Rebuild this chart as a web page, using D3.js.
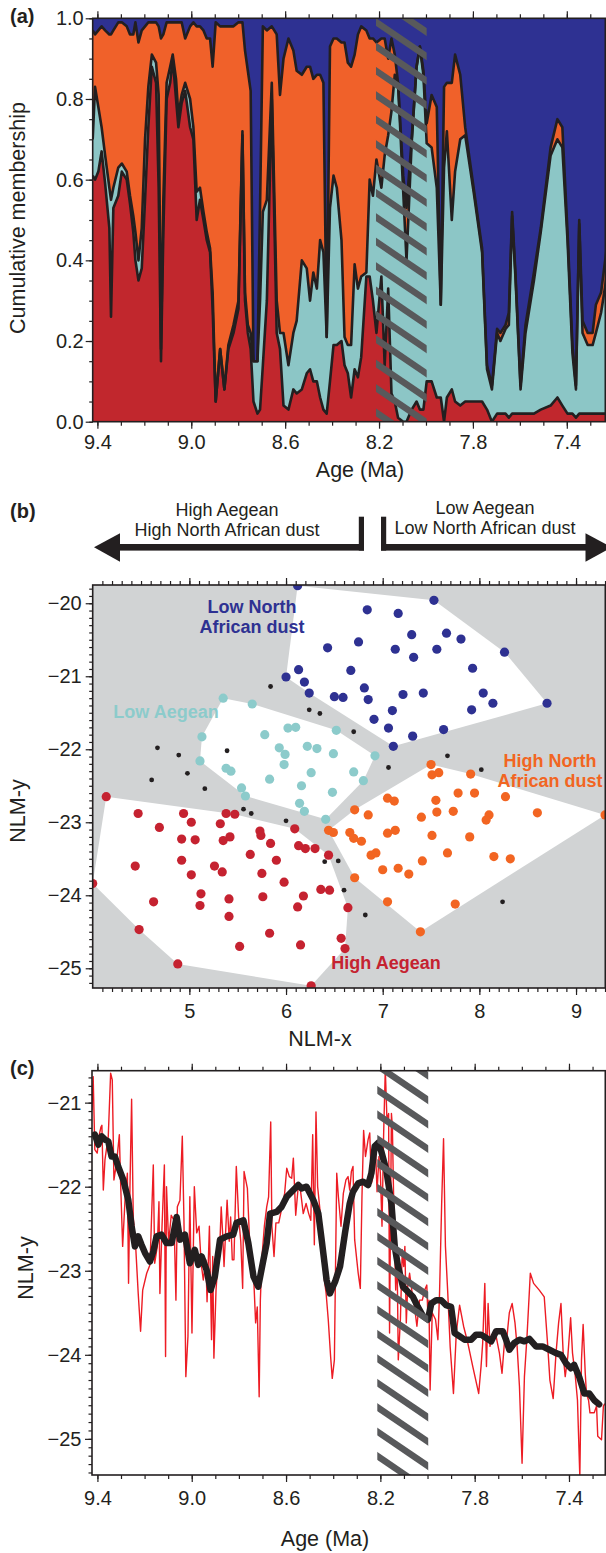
<!DOCTYPE html>
<html>
<head>
<meta charset="utf-8">
<script src="https://cdn.jsdelivr.net/npm/d3@7"></script>
<style>
  body { margin: 0; background: #fff; }
  svg text { font-family: "Liberation Sans", Arial, Helvetica, sans-serif; fill: #231f20; }
</style>
</head>
<body>
<svg id="fig" width="606" height="1553"></svg>
<script>
// ---------- (a) cumulative membership ----------
const membershipAge = [
  9.420,9.410,9.396,9.382,9.367,9.349,9.342,9.332,9.311,9.296,
  9.275,9.261,9.247,9.238,9.225,9.211,9.197,9.183,9.168,9.150,
  9.139,9.129,9.119,9.105,9.090,9.079,9.065,9.055,9.041,9.026,
  9.005,8.991,8.977,8.963,8.948,8.934,8.920,8.909,8.896,8.877,
  8.859,8.842,8.820,8.799,8.782,8.771,8.759,8.747,8.735,8.718,
  8.707,8.695,8.678,8.657,8.636,8.622,8.607,8.586,8.565,8.551,
  8.529,8.508,8.494,8.480,8.465,8.451,8.437,8.423,8.409,8.394,
  8.380,8.360,8.347,8.333,8.319,8.304,8.290,8.276,8.254,8.240,
  8.226,8.211,8.190,8.176,8.161,8.147,8.133,8.119,8.097,8.083,
  8.061,8.040,8.026,8.011,7.997,7.976,7.954,7.937,7.923,7.911,
  7.890,7.876,7.854,7.833,7.797,7.761,7.740,7.719,7.697,7.683,
  7.661,7.647,7.633,7.619,7.597,7.576,7.540,7.511,7.469,7.440,
  7.419,7.397,7.376,7.361,7.347,7.333,7.311,7.290,7.276,7.254,7.230
];
// top of High Aegean (red)
const cumHighAegean = [
  .61,.60,.62,.67,.59,.48,.26,.53,.56,.62,
  .60,.54,.47,.40,.35,.38,.55,.73,.88,.84,
  .58,.15,.47,.80,.84,.90,.80,.73,.79,.82,
  .73,.70,.50,.55,.50,.45,.42,.28,.05,.18,
  .08,.18,.22,.28,.71,.30,.22,.18,.05,.02,
  .03,.14,.30,.80,.22,.18,.04,.03,.08,.07,
  .08,.12,.13,.10,.10,.06,.03,.02,.10,.19,
  .19,.20,.14,.12,.06,.13,.11,.16,.36,.36,
  .30,.22,.36,.14,.33,.07,.05,.01,.00,.00,
  .03,.05,.03,.03,.10,.10,.06,.06,.00,.06,
  .08,.05,.04,.05,.05,.05,.03,.00,.02,.02,
  .02,.01,.02,.02,.02,.02,.02,.03,.04,.06,
  .04,.02,.02,.01,.02,.02,.02,.02,.02,.02,.02
];
// top of Low Aegean (cyan)
const cumLowAegean = [
  .70,.83,.78,.73,.66,.58,.55,.58,.63,.64,
  .62,.56,.51,.47,.40,.48,.70,.83,.91,.89,
  .81,.18,.55,.84,.88,.91,.85,.76,.81,.84,
  .80,.73,.57,.58,.52,.47,.43,.32,.05,.18,
  .08,.19,.24,.30,.72,.32,.24,.22,.15,.15,
  .30,.52,.55,.84,.30,.22,.22,.14,.22,.25,
  .40,.38,.30,.37,.33,.45,.42,.21,.53,.61,
  .58,.45,.21,.19,.19,.39,.33,.36,.37,.60,
  .56,.65,.58,.66,.71,.77,.86,.84,.57,.40,
  .69,.88,.93,.86,.69,.68,.58,.29,.63,.72,
  .50,.62,.70,.71,.57,.42,.13,.08,.22,.20,
  .23,.24,.51,.36,.08,.22,.35,.47,.66,.70,
  .68,.45,.17,.08,.49,.22,.19,.19,.22,.27,.36
];
// top of High North African dust (orange); Low North African dust fills to 1
const cumHighDust = [
  .97,.96,.97,.98,.97,.96,.96,.97,.99,.99,
  .98,.96,.96,.99,.94,.97,.98,.99,.99,.99,
  .98,.95,.96,.99,.99,.99,.99,.99,.99,.95,
  .98,.99,.98,.98,.97,.95,.95,.88,.99,.98,
  .98,.98,.98,.99,.99,.92,.87,.82,.15,.15,
  .53,.98,.97,.98,.96,.81,.90,.95,.92,.87,
  .86,.88,.88,.85,.86,.86,.84,.21,.93,.95,
  .95,.94,.94,.89,.88,.91,.96,.98,.97,.95,
  .95,.94,.95,.95,.90,.95,.91,.84,.61,.53,
  .70,.88,.93,.87,.74,.81,.78,.29,.83,.84,
  .84,.91,.86,.73,.58,.43,.14,.09,.23,.22,
  .24,.27,.52,.37,.09,.24,.37,.48,.68,.75,
  .73,.47,.19,.09,.50,.25,.22,.22,.29,.32,.43
];

const ageTicks = [9.4, 9.0, 8.6, 8.2, 7.8, 7.4];
const membershipTicks = [0, 0.2, 0.4, 0.6, 0.8, 1.0];
const transitionAges = [8.213, 7.997];

// ---------- (b) NLM scores [x, y] per group ----------
const lowNorthAfricanDust = [
  [6.12,-19.76],[7.53,-19.96],[6.84,-20.09],[7.16,-20.14],[7.30,-20.43],[7.66,-20.41],
  [7.81,-20.49],[6.75,-20.53],[6.43,-20.61],[7.13,-20.63],[7.56,-20.63],[7.32,-20.74],
  [8.26,-20.67],[6.67,-20.92],[6.13,-20.91],[6.00,-21.01],[7.93,-20.89],[6.19,-21.08],
  [6.81,-21.16],[6.24,-21.23],[6.50,-21.28],[6.59,-21.29],[6.85,-21.32],[7.21,-21.25],
  [7.42,-21.23],[8.04,-21.23],[8.14,-21.37],[8.70,-21.37],[7.10,-21.47],[7.92,-21.46],
  [6.91,-21.59],[7.06,-21.71],[7.63,-21.73],[7.31,-21.82],[7.11,-21.96]
];
const lowAegean = [
  [5.35,-21.30],[5.65,-21.38],[5.13,-21.83],[5.11,-22.16],[5.78,-21.80],[6.02,-21.71],
  [6.10,-21.70],[6.52,-21.74],[5.93,-21.98],[5.99,-22.07],[6.22,-21.96],[6.32,-21.99],
  [6.49,-22.06],[5.98,-22.21],[5.38,-22.26],[5.43,-22.30],[5.83,-22.41],[6.26,-22.32],
  [6.70,-22.31],[6.92,-22.09],[6.80,-22.43],[5.54,-22.53],[5.58,-22.64],[6.16,-22.50],
  [6.48,-22.59],[6.14,-22.74],[6.19,-22.85],[6.41,-22.96]
];
const highNorthAfricanDust = [
  [7.50,-22.21],[7.51,-22.35],[7.58,-22.32],[7.91,-22.34],[7.78,-22.60],[7.95,-22.60],
  [8.27,-22.65],[7.05,-22.67],[7.12,-22.71],[7.55,-22.70],[6.71,-22.83],[6.85,-22.90],
  [7.40,-22.93],[7.56,-22.86],[7.73,-22.85],[8.10,-22.90],[8.07,-22.97],[8.60,-22.87],
  [9.30,-22.90],[6.44,-23.11],[6.49,-23.14],[6.66,-23.14],[6.70,-23.22],[6.78,-23.26],
  [7.05,-23.15],[7.13,-23.11],[7.51,-23.18],[7.90,-23.20],[6.88,-23.45],[6.93,-23.42],
  [7.67,-23.42],[8.15,-23.47],[8.32,-23.50],[7.41,-23.53],[7.00,-23.65],[7.16,-23.63],
  [7.27,-23.71],[6.71,-23.76],[7.05,-24.09],[7.75,-24.12],[7.39,-24.50]
];
const highAegean = [
  [4.14,-22.65],[4.47,-22.88],[4.69,-23.07],[4.94,-22.88],[5.02,-23.00],[4.92,-23.23],
  [5.06,-23.24],[5.32,-23.02],[5.38,-22.88],[5.47,-22.89],[5.35,-23.25],[5.42,-23.20],
  [5.73,-23.12],[5.74,-23.18],[5.84,-23.29],[6.09,-23.09],[6.13,-23.32],[6.20,-23.36],
  [6.30,-23.36],[6.44,-23.45],[5.63,-23.44],[4.92,-23.52],[4.44,-23.60],[5.26,-23.60],
  [5.34,-23.68],[5.90,-23.52],[5.02,-23.72],[5.75,-23.70],[5.98,-23.82],[4.00,-23.84],
  [5.12,-23.98],[5.41,-24.05],[5.76,-24.02],[6.36,-23.92],[6.45,-23.93],[6.18,-24.01],
  [4.63,-24.09],[5.11,-24.14],[6.12,-24.16],[6.64,-24.17],[5.41,-24.29],[4.48,-24.47],
  [5.83,-24.52],[5.52,-24.70],[6.15,-24.68],[6.57,-24.59],[6.61,-24.73],[4.88,-24.94],
  [6.26,-25.24]
];
const unassigned = [
  [5.84,-21.14],[6.24,-21.46],[6.35,-21.51],[6.70,-21.76],[4.67,-21.98],[4.89,-22.08],
  [5.39,-22.02],[4.98,-22.33],[4.61,-22.42],[5.16,-22.54],[7.06,-22.25],[7.67,-22.09],
  [8.02,-22.28],[5.56,-22.82],[5.64,-22.88],[6.00,-22.98],[6.40,-23.54],[6.54,-23.53],
  [6.60,-23.93],[6.82,-24.27],[8.24,-24.09]
];
const nlmXTicks = [5, 6, 7, 8, 9];
const nlmYTicks = [-20, -21, -22, -23, -24, -25];

// ---------- (c) NLM-y through time [age, value] ----------
const nlmRaw = [
  [9.423,-21.09],[9.418,-20.69],[9.411,-21.56],[9.401,-21.60],[9.392,-21.38],[9.385,-21.29],
  [9.381,-21.27],[9.375,-22.04],[9.368,-21.68],[9.354,-21.40],[9.344,-20.65],[9.337,-20.73],
  [9.330,-21.92],[9.319,-21.72],[9.307,-21.38],[9.302,-21.92],[9.293,-22.71],[9.283,-22.16],
  [9.273,-21.84],[9.268,-23.15],[9.262,-22.00],[9.255,-20.96],[9.248,-22.36],[9.237,-22.75],
  [9.227,-23.27],[9.217,-23.72],[9.208,-23.23],[9.191,-23.03],[9.177,-22.93],[9.163,-21.74],
  [9.157,-22.91],[9.146,-22.71],[9.139,-22.18],[9.135,-23.27],[9.126,-22.47],[9.116,-21.74],
  [9.111,-24.02],[9.107,-22.00],[9.098,-22.67],[9.087,-22.34],[9.075,-22.40],[9.067,-23.35],
  [9.061,-22.24],[9.050,-22.16],[9.040,-21.40],[9.033,-22.40],[9.025,-24.26],[9.016,-23.78],
  [9.008,-22.12],[8.999,-23.74],[8.989,-22.00],[8.979,-22.55],[8.969,-22.47],[8.960,-22.91],
  [8.951,-23.11],[8.940,-22.87],[8.935,-23.37],[8.925,-22.47],[8.916,-23.82],[8.911,-22.83],
  [8.906,-24.04],[8.897,-23.23],[8.890,-22.95],[8.880,-22.63],[8.875,-22.24],[8.869,-22.55],
  [8.863,-22.95],[8.850,-22.16],[8.841,-22.65],[8.835,-22.36],[8.828,-22.87],[8.821,-22.87],
  [8.811,-21.76],[8.801,-22.36],[8.792,-22.65],[8.784,-23.21],[8.778,-21.82],[8.764,-22.02],
  [8.753,-22.75],[8.738,-23.03],[8.729,-23.62],[8.722,-23.43],[8.714,-24.50],[8.709,-23.35],
  [8.702,-22.83],[8.692,-22.47],[8.682,-22.24],[8.674,-22.12],[8.665,-21.23],[8.660,-22.47],
  [8.651,-22.83],[8.643,-22.43],[8.631,-22.43],[8.617,-22.24],[8.606,-22.08],[8.597,-21.78],
  [8.586,-21.88],[8.576,-21.90],[8.569,-21.66],[8.559,-22.34],[8.549,-22.02],[8.539,-22.04],
  [8.527,-22.32],[8.515,-22.20],[8.504,-22.32],[8.495,-22.40],[8.487,-21.38],[8.480,-22.69],
  [8.473,-21.11],[8.466,-22.00],[8.456,-22.28],[8.449,-22.63],[8.439,-23.07],[8.430,-23.27],
  [8.421,-23.58],[8.411,-24.02],[8.404,-24.28],[8.395,-24.06],[8.389,-22.71],[8.385,-21.84],
  [8.378,-22.12],[8.367,-22.47],[8.357,-22.08],[8.346,-21.92],[8.337,-21.88],[8.330,-22.04],
  [8.323,-21.82],[8.316,-21.76],[8.309,-22.63],[8.294,-23.03],[8.285,-23.21],[8.278,-22.12],
  [8.271,-21.33],[8.263,-21.64],[8.252,-21.44],[8.245,-21.36],[8.238,-21.96],[8.231,-21.88],
  [8.221,-21.52],[8.214,-22.06],[8.206,-21.64],[8.200,-21.84],[8.193,-22.47],[8.186,-21.36],
  [8.179,-20.60],[8.172,-21.21],[8.165,-21.13],[8.161,-23.74],[8.153,-21.13],[8.149,-21.29],
  [8.142,-22.40],[8.135,-23.23],[8.129,-22.83],[8.124,-24.06],[8.115,-23.58],[8.107,-22.75],
  [8.101,-22.95],[8.096,-22.71],[8.090,-23.62],[8.084,-23.19],[8.076,-23.03],[8.065,-23.27],
  [8.055,-23.43],[8.045,-23.66],[8.034,-23.35],[8.022,-23.35],[8.012,-23.23],[8.003,-23.17],
  [7.998,-23.58],[7.994,-23.35],[7.989,-24.42],[7.980,-23.50],[7.966,-23.58],[7.956,-23.82],
  [7.949,-23.27],[7.940,-22.20],[7.932,-21.43],[7.924,-22.71],[7.914,-23.27],[7.904,-23.90],
  [7.890,-24.46],[7.878,-23.74],[7.864,-23.41],[7.847,-23.66],[7.829,-23.86],[7.808,-24.14],
  [7.783,-24.46],[7.773,-24.14],[7.766,-23.86],[7.757,-23.15],[7.750,-24.14],[7.743,-23.39],
  [7.735,-23.90],[7.723,-23.74],[7.709,-23.78],[7.695,-23.98],[7.684,-24.22],[7.674,-23.86],
  [7.663,-23.78],[7.653,-23.50],[7.641,-23.39],[7.629,-23.62],[7.620,-23.90],[7.610,-24.38],
  [7.599,-25.29],[7.589,-24.26],[7.578,-23.78],[7.564,-23.03],[7.550,-23.15],[7.526,-23.23],
  [7.505,-23.31],[7.491,-23.86],[7.481,-24.30],[7.467,-24.52],[7.455,-23.98],[7.444,-23.62],
  [7.434,-23.39],[7.424,-24.02],[7.416,-24.26],[7.405,-24.02],[7.393,-23.56],[7.385,-23.98],
  [7.373,-24.26],[7.364,-24.54],[7.354,-25.45],[7.347,-24.06],[7.340,-23.64],[7.331,-24.22],
  [7.326,-24.46],[7.317,-24.54],[7.311,-24.69],[7.293,-24.69],[7.283,-24.61],[7.278,-24.97],
  [7.262,-25.01],[7.254,-24.61],[7.248,-24.58]
];
const nlmSmooth = [
  [9.411,-21.38],[9.396,-21.50],[9.382,-21.40],[9.368,-21.44],[9.354,-21.46],[9.340,-21.64],
  [9.326,-21.64],[9.312,-21.76],[9.290,-21.92],[9.269,-22.16],[9.255,-22.47],[9.241,-22.71],
  [9.227,-22.59],[9.213,-22.69],[9.198,-22.79],[9.177,-22.89],[9.163,-22.77],[9.149,-22.59],
  [9.128,-22.57],[9.107,-22.67],[9.085,-22.67],[9.064,-22.36],[9.050,-22.63],[9.029,-22.57],
  [9.008,-22.91],[8.987,-22.75],[8.972,-22.93],[8.958,-22.83],[8.937,-22.99],[8.920,-23.23],
  [8.902,-23.07],[8.880,-22.63],[8.852,-22.59],[8.824,-22.57],[8.810,-22.43],[8.781,-22.40],
  [8.760,-22.67],[8.738,-23.07],[8.718,-23.19],[8.696,-22.87],[8.682,-22.67],[8.668,-22.32],
  [8.640,-22.30],[8.619,-22.24],[8.597,-22.12],[8.569,-22.04],[8.548,-21.98],[8.534,-22.02],
  [8.513,-22.00],[8.484,-22.16],[8.463,-22.32],[8.449,-22.63],[8.428,-23.11],[8.414,-23.27],
  [8.392,-23.13],[8.371,-22.95],[8.350,-22.55],[8.330,-22.20],[8.316,-22.06],[8.294,-21.96],
  [8.273,-21.94],[8.252,-21.98],[8.238,-21.84],[8.224,-21.52],[8.210,-21.48],[8.196,-21.58],
  [8.175,-21.80],[8.153,-22.20],[8.139,-22.71],[8.125,-22.95],[8.104,-23.19],[8.083,-23.25],
  [8.062,-23.31],[8.041,-23.43],[8.019,-23.54],[7.998,-23.58],[7.984,-23.39],[7.963,-23.35],
  [7.942,-23.35],[7.921,-23.41],[7.900,-23.43],[7.885,-23.74],[7.864,-23.78],[7.843,-23.82],
  [7.815,-23.82],[7.794,-23.76],[7.773,-23.76],[7.751,-23.80],[7.730,-23.84],[7.709,-23.72],
  [7.681,-23.72],[7.667,-23.82],[7.653,-23.94],[7.632,-23.86],[7.610,-23.82],[7.589,-23.84],
  [7.568,-23.81],[7.540,-23.90],[7.512,-23.90],[7.483,-23.94],[7.455,-23.98],[7.434,-24.00],
  [7.413,-24.10],[7.392,-24.16],[7.378,-24.12],[7.357,-24.26],[7.335,-24.46],[7.314,-24.46],
  [7.293,-24.54],[7.272,-24.59]
];
const nlmTimeTicks = [-21, -22, -23, -24, -25];

// ------------------------------------------------------------
const ink = "#231f20";
const svg = d3.select("#fig");
const defs = svg.append("defs");

function styleTicks(g) {
  g.select(".domain").remove();
  g.selectAll("line").attr("stroke", ink).attr("stroke-width", 1.2);
}

// ticks on bottom, top and left, plus the frame
function drawAxes(xs, ys, o) {
  const xl = xs.range()[0];
  const yb = Math.max(...ys.range()), yt = Math.min(...ys.range());
  svg.append("g").attr("transform", `translate(0,${yb})`)
    .call(d3.axisBottom(xs).tickValues(o.xMinor).tickSize(4).tickFormat("")).call(styleTicks);
  svg.append("g").attr("transform", `translate(0,${yt})`)
    .call(d3.axisTop(xs).tickValues(o.xMinor).tickSize(4).tickFormat("")).call(styleTicks);
  svg.append("g").attr("transform", `translate(${xl},0)`)
    .call(d3.axisLeft(ys).tickValues(o.yMinor).tickSize(3.5).tickFormat("")).call(styleTicks);

  const xb = svg.append("g").attr("transform", `translate(0,${yb})`)
    .call(d3.axisBottom(xs).tickValues(o.xMajor).tickSize(7).tickFormat(o.xFmt)).call(styleTicks);
  xb.selectAll("text").attr("y", o.xLabelY).attr("dy", null).attr("font-size", 20).attr("fill", ink);
  svg.append("g").attr("transform", `translate(0,${yt})`)
    .call(d3.axisTop(xs).tickValues(o.xMajor).tickSize(7).tickFormat("")).call(styleTicks);
  const yl = svg.append("g").attr("transform", `translate(${xl},0)`)
    .call(d3.axisLeft(ys).tickValues(o.yMajor).tickSize(7).tickPadding(o.yPad).tickFormat(o.yFmt)).call(styleTicks);
  yl.selectAll("text").attr("font-size", 20).attr("fill", ink);

  svg.append("rect")
    .attr("x", xl).attr("y", yt).attr("width", 605.3 - xl).attr("height", yb - yt)
    .attr("fill", "none").attr("stroke", ink).attr("stroke-width", 1.6);
}

// diagonal hatch over the 8.2-8.0 Ma transition
function hatch(id, x0, x1, y0, y1, first) {
  defs.append("clipPath").attr("id", id).append("rect")
    .attr("x", x0).attr("y", y0).attr("width", x1 - x0).attr("height", y1 - y0);
  const g = svg.append("g").attr("clip-path", `url(#${id})`);
  const slope = 0.68, gap = 24.4, rise = slope * (x1 - x0);
  for (let y = first - Math.ceil(rise / gap + 1) * gap; y < y1 + gap; y += gap) {
    g.append("line")
      .attr("x1", x0 - 3).attr("y1", y - 3 * slope)
      .attr("x2", x1 + 3).attr("y2", y + rise + 3 * slope)
      .attr("stroke", "#58595b").attr("stroke-width", 6.5);
  }
}

function title(text, x, y, size, rotate) {
  svg.append("text")
    .attr("transform", `translate(${x},${y})` + (rotate ? " rotate(-90)" : ""))
    .attr("text-anchor", "middle")
    .attr("font-size", size)
    .text(text);
}

// ================= (a) =================
const ax = d3.scaleLinear().domain([9.42, 7.233]).range([92.7, 606]);
const ay = d3.scaleLinear().domain([0, 1]).range([421.7, 18.3]);

const rowsA = membershipAge.map((a, i) => ({
  age: a, b1: cumHighAegean[i], b2: cumLowAegean[i], b3: cumHighDust[i]
}));

defs.append("clipPath").attr("id", "clipA").append("rect")
  .attr("x", 92.7).attr("y", 18.3).attr("width", 606 - 92.7).attr("height", 421.7 - 18.3);
const gA = svg.append("g").attr("clip-path", "url(#clipA)");

const layers = [
  { fill: "#c1272d", lo: d => 0, hi: d => d.b1 },
  { fill: "#8cc6c6", lo: d => d.b1, hi: d => d.b2 },
  { fill: "#f0612a", lo: d => d.b2, hi: d => d.b3 },
  { fill: "#2e3192", lo: d => d.b3, hi: d => 1 }
];
layers.forEach(l => {
  gA.append("path").datum(rowsA)
    .attr("fill", l.fill)
    .attr("d", d3.area().x(d => ax(d.age)).y0(d => ay(l.lo(d))).y1(d => ay(l.hi(d))));
});
["b1", "b2", "b3"].forEach(k => {
  gA.append("path").datum(rowsA)
    .attr("fill", "none").attr("stroke", ink).attr("stroke-width", 2.6)
    .attr("stroke-linejoin", "round")
    .attr("d", d3.line().x(d => ax(d.age)).y(d => ay(d[k])));
});

hatch("hatchA", ax(transitionAges[0]), ax(transitionAges[1]), 18.3, 421.7, 22);

drawAxes(ax, ay, {
  xMinor: d3.range(7.3, 9.45, 0.1), xMajor: ageTicks, xFmt: d3.format(".1f"), xLabelY: 27,
  yMinor: d3.range(0, 1.001, 0.05), yMajor: membershipTicks, yFmt: d3.format(".1f"), yPad: 2
});

title("Cumulative membership", 25, 218, 21.5, true);
title("Age (Ma)", 360, 477, 21.5);
svg.append("text").attr("x", 10).attr("y", 23).attr("font-size", 20).attr("font-weight", "bold").text("(a)");

// ================= (b) =================
const bx = d3.scaleLinear().domain([4.0, 9.31]).range([92.7, 606]);
const by = d3.scaleLinear().domain([-19.75, -25.27]).range([585, 988]);

// arrows above the panel
const arrowY = 547.3, half = 3.3, barTop = 516.7;
svg.append("rect").attr("x", 118).attr("y", arrowY - half).attr("width", 364 - 118).attr("height", 2 * half).attr("fill", ink);
svg.append("rect").attr("x", 358.8).attr("y", barTop).attr("width", 5.2).attr("height", arrowY + half - barTop).attr("fill", ink);
svg.append("path").attr("d", `M94,${arrowY} L120,533.3 L120,561.7 Z`).attr("fill", ink);
svg.append("rect").attr("x", 381).attr("y", arrowY - half).attr("width", 588 - 381).attr("height", 2 * half).attr("fill", ink);
svg.append("rect").attr("x", 381).attr("y", barTop).attr("width", 5.2).attr("height", arrowY + half - barTop).attr("fill", ink);
svg.append("path").attr("d", `M612,${arrowY} L585.5,533.3 L585.5,561.7 Z`).attr("fill", ink);
title("High Aegean", 227, 516.3, 18);
title("High North African dust", 227, 535.8, 18);
title("Low Aegean", 485, 513.5, 18);
title("Low North African dust", 485, 533.5, 18);

defs.append("clipPath").attr("id", "clipB").append("rect")
  .attr("x", 92.7).attr("y", 585).attr("width", 606 - 92.7).attr("height", 988 - 585);
const gB = svg.append("g").attr("clip-path", "url(#clipB)");
gB.append("rect").attr("x", 92.7).attr("y", 585).attr("width", 606 - 92.7).attr("height", 988 - 585).attr("fill", "#d1d3d4");

const groups = [
  { pts: highAegean, color: "#c52230" },
  { pts: lowAegean, color: "#8ccbcb" },
  { pts: highNorthAfricanDust, color: "#f26522" },
  { pts: lowNorthAfricanDust, color: "#2e3192" }
];
groups.forEach(gr => {
  const hull = d3.polygonHull(gr.pts.map(p => [bx(p[0]), by(p[1])]));
  gB.append("path").attr("d", "M" + hull.join("L") + "Z").attr("fill", "#fff");
});
gB.selectAll("circle.unassigned").data(unassigned).enter().append("circle")
  .attr("class", "unassigned")
  .attr("cx", d => bx(d[0])).attr("cy", d => by(d[1])).attr("r", 2.4).attr("fill", ink);
groups.forEach((gr, i) => {
  gB.selectAll("circle.g" + i).data(gr.pts).enter().append("circle")
    .attr("class", "g" + i)
    .attr("cx", d => bx(d[0])).attr("cy", d => by(d[1])).attr("r", 4.6).attr("fill", gr.color);
});

const regionLabels = [
  { lines: ["Low North", "African dust"], x: 252, y: 612.5, color: "#2e3192" },
  { lines: ["Low Aegean"], x: 166, y: 718, color: "#8ccbcb" },
  { lines: ["High North", "African dust"], x: 550, y: 766.5, color: "#f26522" },
  { lines: ["High Aegean"], x: 386, y: 968.5, color: "#c52230" }
];
regionLabels.forEach(r => {
  r.lines.forEach((t, j) => {
    svg.append("text").attr("x", r.x).attr("y", r.y + j * 20.5)
      .attr("text-anchor", "middle").attr("font-size", 18).attr("font-weight", "bold")
      .style("fill", r.color).text(t);
  });
});

drawAxes(bx, by, {
  xMinor: d3.range(4.1, 9.35, 0.1), xMajor: nlmXTicks, xFmt: d3.format("d"), xLabelY: 30,
  yMinor: d3.range(-25.2, -19.75, 0.1), yMajor: nlmYTicks, yFmt: d3.format("d"), yPad: 4
});
title("NLM-y", 25, 811, 21.5, true);
title("NLM-x", 320, 1045.5, 21.5);
svg.append("text").attr("x", 10).attr("y", 518).attr("font-size", 20).attr("font-weight", "bold").text("(b)");

// ================= (c) =================
const cx = d3.scaleLinear().domain([9.423, 7.243]).range([92, 606]);
const cy = d3.scaleLinear().domain([-20.62, -25.43]).range([1070.7, 1475]);

defs.append("clipPath").attr("id", "clipC").append("rect")
  .attr("x", 92).attr("y", 1070.7).attr("width", 606 - 92).attr("height", 1475 - 1070.7);
const gC = svg.append("g").attr("clip-path", "url(#clipC)");
gC.append("path").datum(nlmRaw)
  .attr("fill", "none").attr("stroke", "#ed1c24").attr("stroke-width", 1.4).attr("stroke-linejoin", "round")
  .attr("d", d3.line().x(d => cx(d[0])).y(d => cy(d[1])));
gC.append("path").datum(nlmSmooth)
  .attr("fill", "none").attr("stroke", ink).attr("stroke-width", 6.5)
  .attr("stroke-linejoin", "round").attr("stroke-linecap", "round")
  .attr("d", d3.line().x(d => cx(d[0])).y(d => cy(d[1])));

hatch("hatchC", cx(transitionAges[0]), cx(transitionAges[1]), 1070.7, 1475, 1090);

drawAxes(cx, cy, {
  xMinor: d3.range(7.3, 9.45, 0.1), xMajor: ageTicks, xFmt: d3.format(".1f"), xLabelY: 30,
  yMinor: d3.range(-25.4, -20.65, 0.1), yMajor: nlmTimeTicks, yFmt: d3.format("d"), yPad: 3.5
});
title("NLM-y", 32.5, 1268, 21.5, true);
title("Age (Ma)", 325, 1545.5, 21.5);
svg.append("text").attr("x", 10).attr("y", 1075).attr("font-size", 20).attr("font-weight", "bold").text("(c)");
</script>
</body>
</html>
